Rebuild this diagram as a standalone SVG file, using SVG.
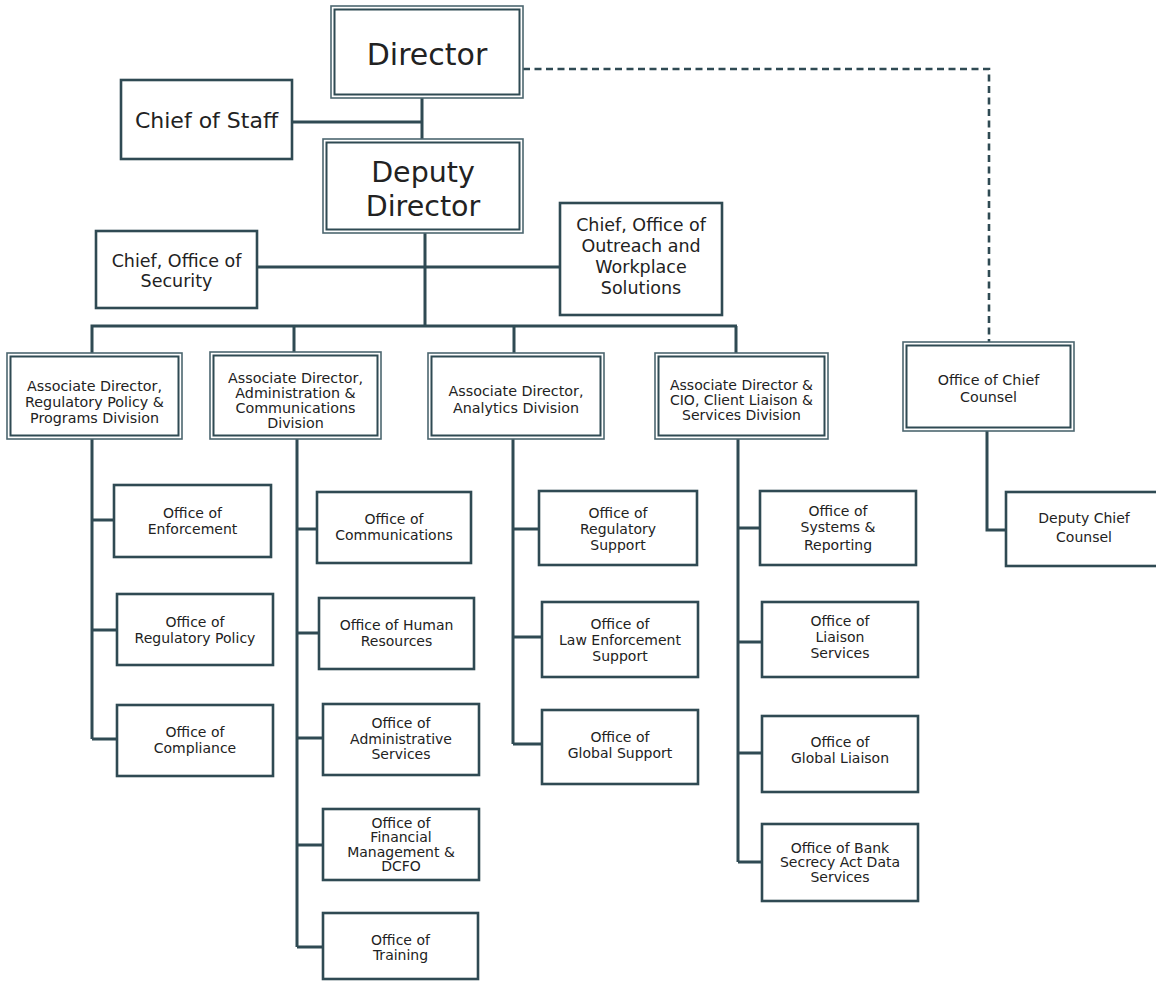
<svg xmlns="http://www.w3.org/2000/svg" width="1156" height="983" viewBox="0 0 1156 983">
<style>
.bg{fill:#ffffff}
.box{fill:#ffffff;stroke:#2f4a53;stroke-width:2.6}
.outer{fill:#ffffff;stroke:#4d6770;stroke-width:1.6}
.inner{fill:none;stroke:#2f4a53;stroke-width:2}
.ln{fill:none;stroke:#2f4a53;stroke-width:3;stroke-linejoin:miter}
.dash{fill:none;stroke:#2f4a53;stroke-width:2.6;stroke-dasharray:7 4.5}
text{font-family:"DejaVu Sans","Liberation Sans",sans-serif;fill:#222222;text-anchor:middle}
.xl{font-size:30px}
.dd{font-size:28.5px}
.l{font-size:22px}
.m{font-size:17.5px}
.s{font-size:14px}
.a{font-size:14.3px}
</style>
<rect class="bg" x="0" y="0" width="1156" height="983"/>
<g id="connectors">
<path class="ln" d="M422 98 V139 M292 122 H422"/>
<path class="ln" d="M425 233 V326 M257 267 H560"/>
<path class="ln" d="M92 353 V326 H737 M294 326 V352 M514 326 V353 M736 326 V353"/>
<path class="ln" d="M92 439 V739 M92 520 H114 M92 630 H117 M92 739 H117"/>
<path class="ln" d="M297 439 V947 M297 529 H317 M297 633 H319 M297 738 H323 M297 845 H323 M297 947 H323"/>
<path class="ln" d="M513 439 V744 M513 529 H539 M513 637 H542 M513 744 H542"/>
<path class="ln" d="M738 439 V862 M738 528 H760 M738 642 H762 M738 753 H762 M738 862 H762"/>
<path class="dash" d="M523 69 H989 V342"/>
<path class="ln" d="M987 431 V530 H1006"/>
</g>
<g id="director">
<rect class="outer" x="331" y="6" width="192" height="92"/>
<rect class="inner" x="334.5" y="9.5" width="185" height="85"/>
<text class="xl" x="427" y="65">Director</text>
</g>
<g id="chief-of-staff">
<rect class="box" x="121" y="80" width="171" height="79"/>
<text class="l" x="206.5" y="128">Chief of Staff</text>
</g>
<g id="deputy-director">
<rect class="outer" x="323" y="139" width="200" height="94"/>
<rect class="inner" x="326.5" y="142.5" width="193" height="87"/>
<text class="dd" x="423" y="182">Deputy</text>
<text class="dd" x="423" y="216">Director</text>
</g>
<g id="chief-security">
<rect class="box" x="96" y="231" width="161" height="77"/>
<text class="m" x="176.5" y="267">Chief, Office of</text>
<text class="m" x="176.5" y="287">Security</text>
</g>
<g id="chief-outreach">
<rect class="box" x="560" y="203" width="162" height="112"/>
<text class="m" x="641" y="231">Chief, Office of</text>
<text class="m" x="641" y="252">Outreach and</text>
<text class="m" x="641" y="273">Workplace</text>
<text class="m" x="641" y="294">Solutions</text>
</g>
<g id="ad-regulatory">
<rect class="outer" x="7" y="353" width="175" height="86"/>
<rect class="inner" x="10.5" y="356.5" width="168" height="79"/>
<text class="a" x="94.5" y="391">Associate Director,</text>
<text class="a" x="94.5" y="407">Regulatory Policy &amp;</text>
<text class="a" x="94.5" y="423">Programs Division</text>
</g>
<g id="ad-admin">
<rect class="outer" x="210" y="352" width="171" height="87"/>
<rect class="inner" x="213.5" y="355.5" width="164" height="80"/>
<text class="a" x="295.5" y="383">Associate Director,</text>
<text class="a" x="295.5" y="398">Administration &amp;</text>
<text class="a" x="295.5" y="413">Communications</text>
<text class="a" x="295.5" y="428">Division</text>
</g>
<g id="ad-analytics">
<rect class="outer" x="428" y="353" width="176" height="86"/>
<rect class="inner" x="431.5" y="356.5" width="169" height="79"/>
<text class="a" x="516" y="396">Associate Director,</text>
<text class="a" x="516" y="413">Analytics Division</text>
</g>
<g id="ad-cio">
<rect class="outer" x="655" y="353" width="173" height="86"/>
<rect class="inner" x="658.5" y="356.5" width="166" height="79"/>
<text class="s" x="741.5" y="390">Associate Director &amp;</text>
<text class="s" x="741.5" y="405">CIO, Client Liaison &amp;</text>
<text class="s" x="741.5" y="420">Services Division</text>
</g>
<g id="chief-counsel">
<rect class="outer" x="903" y="342" width="171" height="89"/>
<rect class="inner" x="906.5" y="345.5" width="164" height="82"/>
<text class="a" x="988.5" y="385">Office of Chief</text>
<text class="a" x="988.5" y="402">Counsel</text>
</g>
<g id="deputy-chief-counsel">
<rect class="box" x="1006" y="492" width="158" height="74"/>
<text class="s" x="1084" y="523">Deputy Chief</text>
<text class="s" x="1084" y="542">Counsel</text>
</g>
<g id="enforcement">
<rect class="box" x="114" y="485" width="157" height="72"/>
<text class="s" x="192.5" y="518">Office of</text>
<text class="s" x="192.5" y="534">Enforcement</text>
</g>
<g id="regulatory-policy">
<rect class="box" x="117" y="594" width="156" height="71"/>
<text class="s" x="195" y="627">Office of</text>
<text class="s" x="195" y="643">Regulatory Policy</text>
</g>
<g id="compliance">
<rect class="box" x="117" y="705" width="156" height="71"/>
<text class="s" x="195" y="737">Office of</text>
<text class="s" x="195" y="753">Compliance</text>
</g>
<g id="communications">
<rect class="box" x="317" y="492" width="154" height="71"/>
<text class="s" x="394" y="524">Office of</text>
<text class="s" x="394" y="540">Communications</text>
</g>
<g id="human-resources">
<rect class="box" x="319" y="598" width="155" height="71"/>
<text class="s" x="396.5" y="630">Office of Human</text>
<text class="s" x="396.5" y="646">Resources</text>
</g>
<g id="administrative-services">
<rect class="box" x="323" y="704" width="156" height="71"/>
<text class="s" x="401" y="728">Office of</text>
<text class="s" x="401" y="744">Administrative</text>
<text class="s" x="401" y="759">Services</text>
</g>
<g id="financial-management">
<rect class="box" x="323" y="809" width="156" height="71"/>
<text class="s" x="401" y="828">Office of</text>
<text class="s" x="401" y="842">Financial</text>
<text class="s" x="401" y="857">Management &amp;</text>
<text class="s" x="401" y="871">DCFO</text>
</g>
<g id="training">
<rect class="box" x="323" y="913" width="155" height="66"/>
<text class="s" x="400.5" y="945">Office of</text>
<text class="s" x="400.5" y="960">Training</text>
</g>
<g id="regulatory-support">
<rect class="box" x="539" y="491" width="158" height="74"/>
<text class="s" x="618" y="518">Office of</text>
<text class="s" x="618" y="534">Regulatory</text>
<text class="s" x="618" y="550">Support</text>
</g>
<g id="law-enforcement-support">
<rect class="box" x="542" y="602" width="156" height="75"/>
<text class="s" x="620" y="629">Office of</text>
<text class="s" x="620" y="645">Law Enforcement</text>
<text class="s" x="620" y="661">Support</text>
</g>
<g id="global-support">
<rect class="box" x="542" y="710" width="156" height="74"/>
<text class="s" x="620" y="742">Office of</text>
<text class="s" x="620" y="758">Global Support</text>
</g>
<g id="systems-reporting">
<rect class="box" x="760" y="491" width="156" height="74"/>
<text class="s" x="838" y="516">Office of</text>
<text class="s" x="838" y="532">Systems &amp;</text>
<text class="s" x="838" y="550">Reporting</text>
</g>
<g id="liaison-services">
<rect class="box" x="762" y="602" width="156" height="75"/>
<text class="s" x="840" y="626">Office of</text>
<text class="s" x="840" y="642">Liaison</text>
<text class="s" x="840" y="658">Services</text>
</g>
<g id="global-liaison">
<rect class="box" x="762" y="716" width="156" height="76"/>
<text class="s" x="840" y="747">Office of</text>
<text class="s" x="840" y="763">Global Liaison</text>
</g>
<g id="bank-secrecy">
<rect class="box" x="762" y="824" width="156" height="77"/>
<text class="s" x="840" y="853">Office of Bank</text>
<text class="s" x="840" y="867">Secrecy Act Data</text>
<text class="s" x="840" y="882">Services</text>
</g>
</svg>
